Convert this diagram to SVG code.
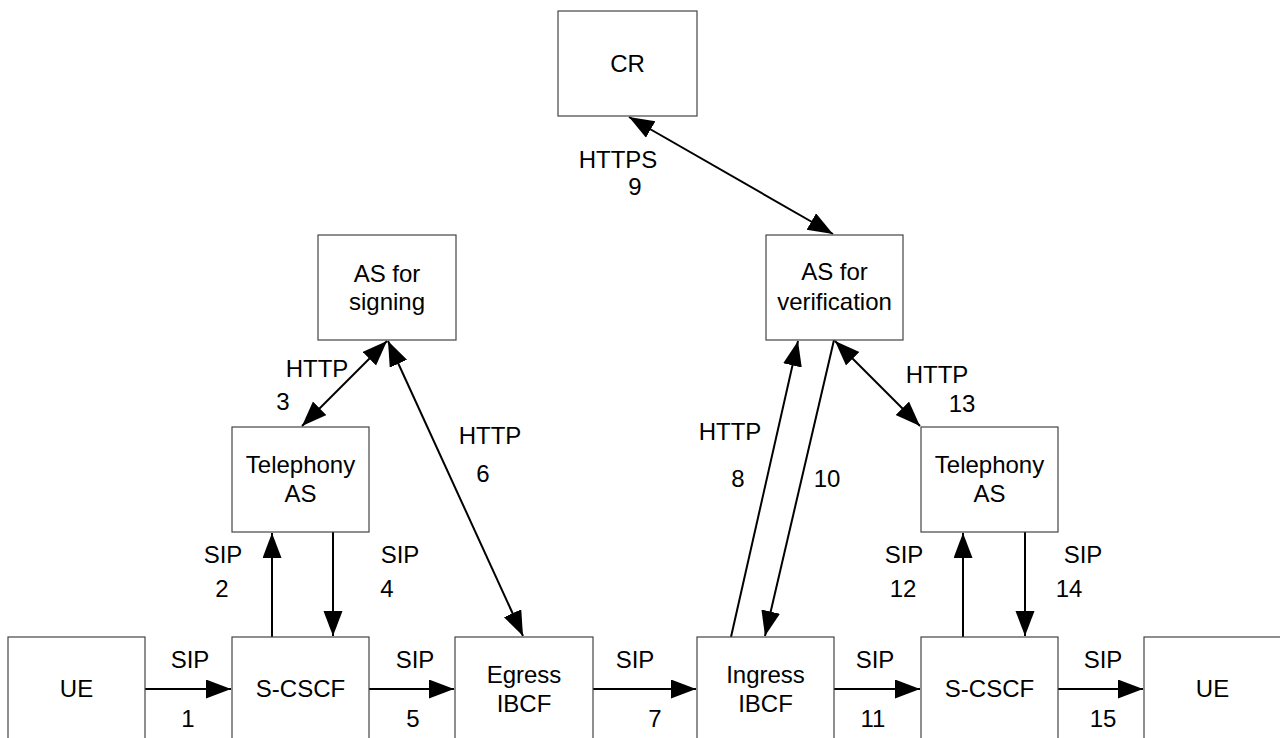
<svg xmlns="http://www.w3.org/2000/svg" width="1280" height="738" viewBox="0 0 1280 738">
<style>
.box{fill:#fff;stroke:#444;stroke-width:1.2}
.t{font-family:"Liberation Sans",Arial,sans-serif;font-size:24px;fill:#000;text-anchor:middle}
.c{stroke:#000;stroke-width:2;fill:none}
</style>
<defs>
<marker id="ah" markerUnits="userSpaceOnUse" markerWidth="26" markerHeight="20" refX="25" refY="9.5" orient="auto-start-reverse" viewBox="0 0 26 20">
<path d="M0,0 L25,9.5 L0,19 z" fill="#000"/>
</marker>
</defs>
<rect width="1280" height="738" fill="#fff"/>
<g id="connectors">
<line class="c" x1="145" y1="689" x2="231" y2="689" marker-end="url(#ah)"/>
<line class="c" x1="369" y1="689" x2="454" y2="689" marker-end="url(#ah)"/>
<line class="c" x1="593" y1="689" x2="696" y2="689" marker-end="url(#ah)"/>
<line class="c" x1="834" y1="689" x2="920" y2="689" marker-end="url(#ah)"/>
<line class="c" x1="1058" y1="689" x2="1143" y2="689" marker-end="url(#ah)"/>
<line class="c" x1="272" y1="637" x2="272" y2="533" marker-end="url(#ah)"/>
<line class="c" x1="333" y1="532" x2="333" y2="636" marker-end="url(#ah)"/>
<line class="c" x1="963" y1="637" x2="963" y2="533" marker-end="url(#ah)"/>
<line class="c" x1="1025" y1="532" x2="1025" y2="636" marker-end="url(#ah)"/>
<line class="c" x1="387" y1="341" x2="302" y2="426" marker-start="url(#ah)" marker-end="url(#ah)"/>
<line class="c" x1="388" y1="341" x2="523" y2="636" marker-start="url(#ah)" marker-end="url(#ah)"/>
<line class="c" x1="731" y1="637" x2="798" y2="341" marker-end="url(#ah)"/>
<line class="c" x1="834" y1="340" x2="765" y2="636" marker-end="url(#ah)"/>
<line class="c" x1="835" y1="341" x2="920" y2="426" marker-start="url(#ah)" marker-end="url(#ah)"/>
<line class="c" x1="629" y1="117" x2="833" y2="234" marker-start="url(#ah)" marker-end="url(#ah)"/>
</g>
<g id="labels">
<text class="t" x="190" y="668">SIP</text><text class="t" x="188" y="727">1</text>
<text class="t" x="415" y="668">SIP</text><text class="t" x="413" y="727">5</text>
<text class="t" x="635" y="668">SIP</text><text class="t" x="655" y="727">7</text>
<text class="t" x="875" y="668">SIP</text><text class="t" x="873" y="727">11</text>
<text class="t" x="1103" y="668">SIP</text><text class="t" x="1103" y="727">15</text>
<text class="t" x="223" y="563">SIP</text><text class="t" x="222" y="597">2</text>
<text class="t" x="400" y="563">SIP</text><text class="t" x="387" y="597">4</text>
<text class="t" x="904" y="563">SIP</text><text class="t" x="903" y="597">12</text>
<text class="t" x="1083" y="563">SIP</text><text class="t" x="1069" y="597">14</text>
<text class="t" x="317" y="377">HTTP</text><text class="t" x="283" y="410">3</text>
<text class="t" x="490" y="444">HTTP</text><text class="t" x="483" y="482">6</text>
<text class="t" x="730" y="440">HTTP</text><text class="t" x="738" y="487">8</text>
<text class="t" x="827" y="487">10</text>
<text class="t" x="937" y="383">HTTP</text><text class="t" x="962" y="412">13</text>
<text class="t" x="618" y="168">HTTPS</text><text class="t" x="635" y="195">9</text>
</g>
<g id="ue1"><rect class="box" x="8" y="637" width="137" height="120"/><text class="t" x="76.5" y="697">UE</text></g>
<g id="scscf1"><rect class="box" x="232" y="637" width="137" height="120"/><text class="t" x="300.5" y="697">S-CSCF</text></g>
<g id="egress"><rect class="box" x="455" y="637" width="138" height="120"/><text class="t" x="524" y="683">Egress</text><text class="t" x="524" y="712">IBCF</text></g>
<g id="ingress"><rect class="box" x="697" y="637" width="137" height="120"/><text class="t" x="765.5" y="683">Ingress</text><text class="t" x="765.5" y="712">IBCF</text></g>
<g id="scscf2"><rect class="box" x="921" y="637" width="137" height="120"/><text class="t" x="989.5" y="697">S-CSCF</text></g>
<g id="ue2"><rect class="box" x="1144" y="637" width="137" height="120"/><text class="t" x="1212.5" y="697">UE</text></g>
<g id="telas1"><rect class="box" x="232" y="427" width="137" height="105"/><text class="t" x="300.5" y="473">Telephony</text><text class="t" x="300.5" y="502">AS</text></g>
<g id="telas2"><rect class="box" x="921" y="427" width="137" height="105"/><text class="t" x="989.5" y="473">Telephony</text><text class="t" x="989.5" y="502">AS</text></g>
<g id="assign"><rect class="box" x="318" y="235" width="138" height="105"/><text class="t" x="387" y="282">AS for</text><text class="t" x="387" y="310">signing</text></g>
<g id="asverif"><rect class="box" x="766" y="235" width="137" height="105"/><text class="t" x="834.5" y="280">AS for</text><text class="t" x="834.5" y="310">verification</text></g>
<g id="cr"><rect class="box" x="558" y="11" width="139" height="105"/><text class="t" x="627.5" y="72">CR</text></g>
</svg>
